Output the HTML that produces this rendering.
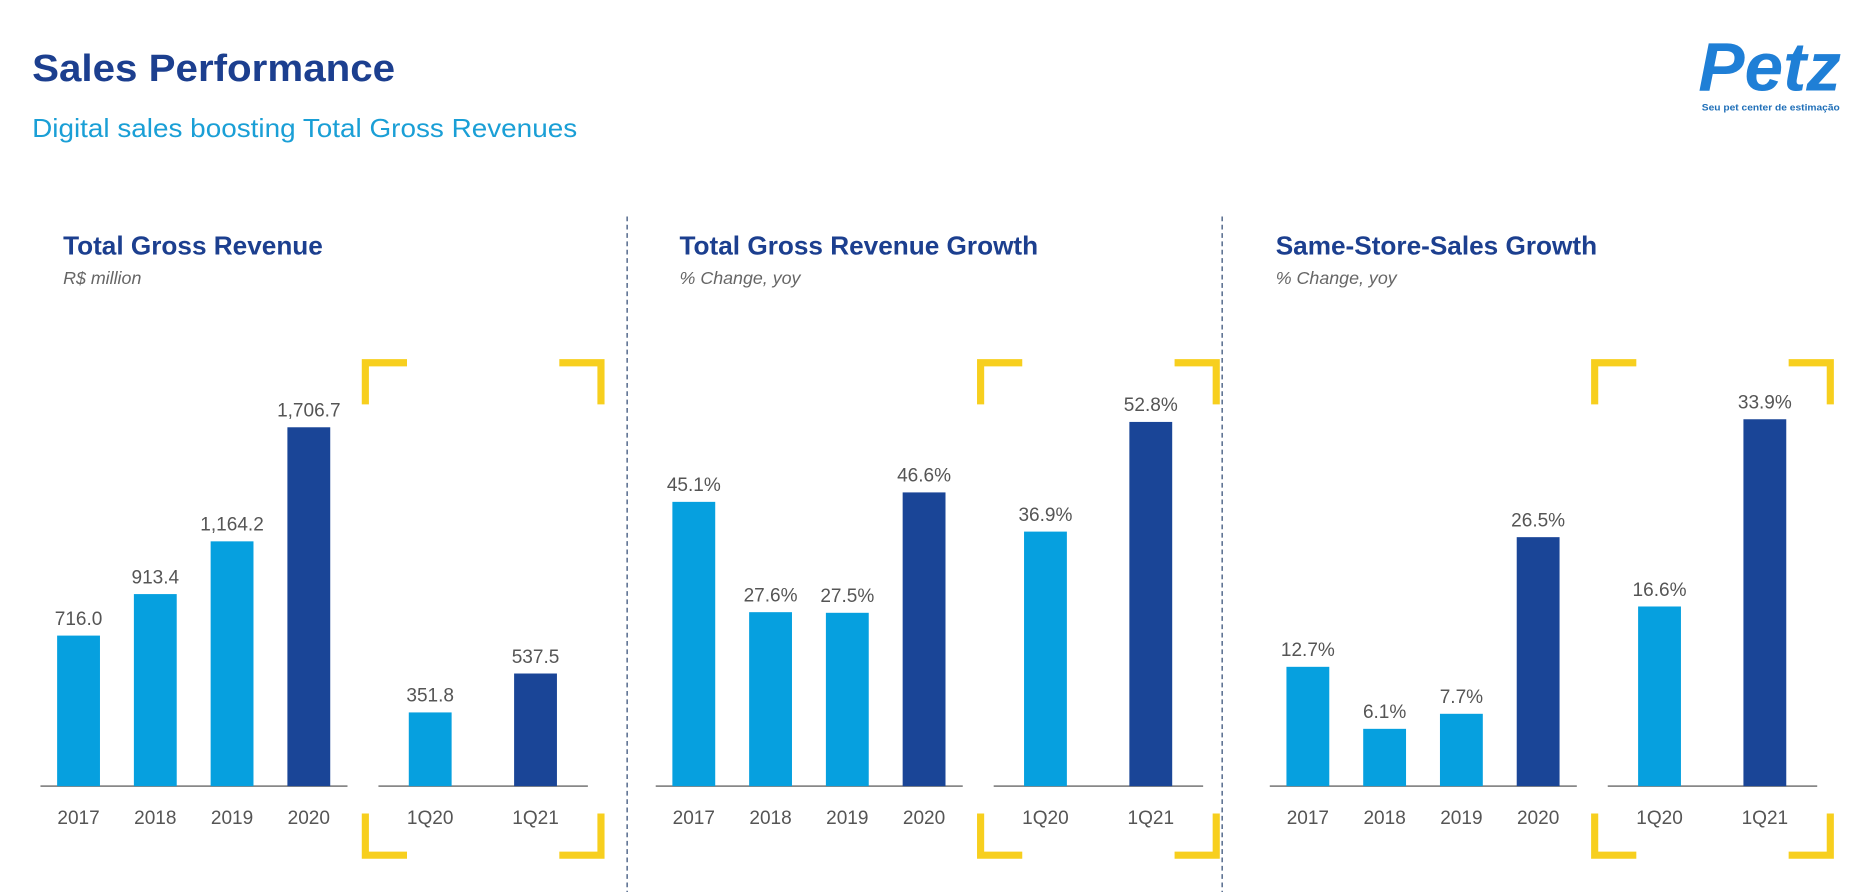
<!DOCTYPE html>
<html><head><meta charset="utf-8"><style>
html,body{margin:0;padding:0;background:#fff;}
svg{display:block;font-family:"Liberation Sans",sans-serif;}
</style></head><body>
<svg id="chart" width="1866" height="892" viewBox="0 0 1568 750" preserveAspectRatio="none" xmlns="http://www.w3.org/2000/svg">
<text x="27" y="68" font-size="32" font-weight="bold" fill="#1c3f8f" textLength="305" lengthAdjust="spacingAndGlyphs">Sales Performance</text>
<text x="27" y="115" font-size="22" fill="#1a9fd6" textLength="458" lengthAdjust="spacingAndGlyphs">Digital sales boosting Total Gross Revenues</text>
<g>
<text x="1487" y="76" font-size="58" font-weight="bold" fill="#1f7fd6" text-anchor="middle" font-style="italic" textLength="120" lengthAdjust="spacingAndGlyphs">Petz</text>
<text x="1488" y="93" font-size="8" font-weight="bold" fill="#1f6fb8" text-anchor="middle" textLength="116" lengthAdjust="spacingAndGlyphs">Seu pet center de estimação</text>
</g>
<line x1="527" y1="182" x2="527" y2="750" stroke="#5a6f90" stroke-width="1.3" stroke-dasharray="4,3"/>
<line x1="1027" y1="182" x2="1027" y2="750" stroke="#5a6f90" stroke-width="1.3" stroke-dasharray="4,3"/>
<g id="plots"></g>
</svg>
<script>
const categories = ["2017","2018","2019","2020"];
const quarterCategories = ["1Q20","1Q21"];
const revenueAnnual = [716.0, 913.4, 1164.2, 1706.7];
const revenueQuarter = [351.8, 537.5];
const growthAnnual = [45.1, 27.6, 27.5, 46.6];
const growthQuarter = [36.9, 52.8];
const sssAnnual = [12.7, 6.1, 7.7, 26.5];
const sssQuarter = [16.6, 33.9];
const annualLabels = ["716.0","913.4","1,164.2","1,706.7"];
const quarterLabels = ["351.8","537.5"];
const growthAnnualLabels = ["45.1%","27.6%","27.5%","46.6%"];
const growthQuarterLabels = ["36.9%","52.8%"];
const sssAnnualLabels = ["12.7%","6.1%","7.7%","26.5%"];
const sssQuarterLabels = ["16.6%","33.9%"];

const NS="http://www.w3.org/2000/svg";
const root=document.getElementById('plots');
const LIGHT="#06a0df", DARK="#1a4597";
const BASE=661;
function mk(tag,attrs,parent){const e=document.createElementNS(NS,tag);for(const k in attrs)e.setAttribute(k,attrs[k]);(parent||root).appendChild(e);return e;}
function yScale(pxPerUnit){return v=>BASE-v*pxPerUnit;}

const panels=[
 {x:0,title:"Total Gross Revenue",sub:"R$ million",tx:53,a:revenueAnnual,al:annualLabels,q:revenueQuarter,ql:quarterLabels,sa:0.1768,sq:0.1762,name:"revenue"},
 {x:517,title:"Total Gross Revenue Growth",sub:"% Change, yoy",tx:571,a:growthAnnual,al:growthAnnualLabels,q:growthQuarter,ql:growthQuarterLabels,sa:5.3,sq:5.8,name:"growth"},
 {x:1033,title:"Same-Store-Sales Growth",sub:"% Change, yoy",tx:1072,a:sssAnnual,al:sssAnnualLabels,q:sssQuarter,ql:sssQuarterLabels,sa:7.9,sq:9.1,name:"sss"}
];
panels.forEach(p=>{
 const g=mk('g',{});
 
 
 const t=mk('text',{x:p.tx,y:214,'font-size':22,'font-weight':'bold',fill:'#1c3f8f'},g);
 t.textContent=p.title;
 
 
 const s=mk('text',{x:p.tx,y:239,'font-size':15,'font-style':'italic',fill:'#666'},g);
 s.textContent=p.sub;
 
 
 const o=p.x;
 // baselines
 const b1=mk('line',{x1:o+34,x2:o+292,y1:BASE,y2:BASE,stroke:'#888','stroke-width':1.5},g);
 
 
 const b2=mk('line',{x1:o+318,x2:o+494,y1:BASE,y2:BASE,stroke:'#888','stroke-width':1.5},g);
 
 
 const ya=yScale(p.sa), yq=yScale(p.sq);
 const xa=i=>o+66+i*64.5, xq=i=>o+361.5+i*88.5;
 function bar(cx,v,ys,col,lab,cat,nm){
  const r=mk('rect',{x:cx-18,y:ys(v),width:36,height:BASE-ys(v),fill:col},g);
  
  
  const vt=mk('text',{x:cx,y:ys(v)-9,'font-size':16,fill:'#555','text-anchor':'middle'},g);
  vt.textContent=lab;
  
  
  const ct=mk('text',{x:cx,y:693,'font-size':16,fill:'#555','text-anchor':'middle'},g);
  ct.textContent=cat;
  
  
 }
 p.a.forEach((v,i)=>bar(xa(i),v,ya,i===3?DARK:LIGHT,p.al[i],categories[i],p.name+'-bar-'+categories[i]));
 p.q.forEach((v,i)=>bar(xq(i),v,yq,i===1?DARK:LIGHT,p.ql[i],quarterCategories[i],p.name+'-bar-'+quarterCategories[i]));
 // brackets
 const L=o+304,R=o+508,T=302,B=722,len=38,w=6;
 const br=mk('path',{fill:'none',stroke:'#f7cf1e','stroke-width':w,
  d:`M${L+3} ${T+len}V${T+3}H${L+len} M${R-len} ${T+3}H${R-3}V${T+len} M${L+3} ${B-len}V${B-3}H${L+len} M${R-len} ${B-3}H${R-3}V${B-len}`},g);
 
 
});
</script>
</body></html>
